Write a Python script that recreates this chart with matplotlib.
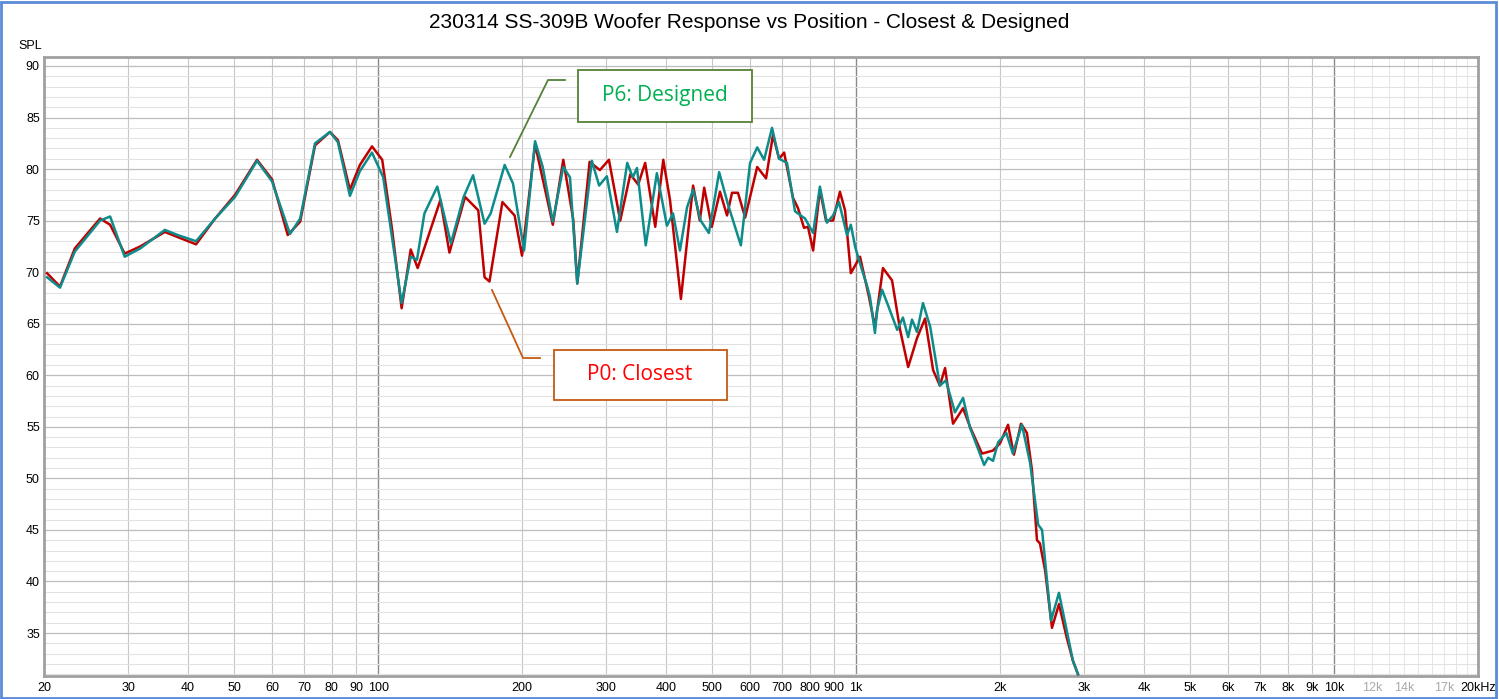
import matplotlib
matplotlib.use("Agg")
import matplotlib.pyplot as plt
from matplotlib.patches import Rectangle
from matplotlib.lines import Line2D
from matplotlib.ticker import NullFormatter, FixedLocator

plt.rcParams["font.family"] = "Liberation Sans"

title = "230314 SS-309B Woofer Response vs Position - Closest & Designed"

p0_freq = [20.3,21.6,23.2,26.2,27.5,29.5,31.8,35.8,38.1,41.6,45.6,50.2,55.8,60,64.7,68.7,73.8,79.3,82.4,87.3,91.6,97.1,102,107,112,117,121,135,141,152,162,167,171,182,193,200,213,232,244,256,261,277,291,304,321,337,350,362,380,395,408,430,456,471,481,499,519,537,550,566,586,621,648,670,690,707,738,756,778,793,813,840,865,895,925,948,975,1019,1064,1095,1138,1189,1236,1285,1341,1394,1449,1497,1535,1595,1674,1731,1834,1934,2000,2079,2139,2213,2277,2333,2390,2424,2485,2569,2657,2760,2842,2912]
p0_spl = [69.9,68.6,72.3,75.2,74.6,71.8,72.5,73.9,73.4,72.7,75.2,77.5,80.9,79.0,73.6,74.9,82.3,83.6,82.8,78.0,80.4,82.2,80.9,74.1,66.5,72.2,70.4,77.0,71.9,77.3,76.0,69.5,69.1,76.8,75.5,71.6,82.4,74.6,80.9,75.1,68.9,80.7,79.9,80.9,75.0,79.5,78.5,80.6,74.4,80.9,77.0,67.4,78.4,75.0,78.2,74.4,77.8,75.5,77.7,77.7,75.3,80.2,79.1,83.3,81.0,81.6,77.2,76.2,74.3,74.4,72.1,78.0,75.0,75.0,77.8,76.0,69.9,71.5,67.6,64.7,70.4,69.2,64.4,60.8,63.6,65.5,60.5,59.0,60.7,55.3,56.8,55.0,52.4,52.7,53.4,55.2,52.3,55.3,54.4,50.8,44.0,43.7,41.1,35.5,37.8,34.5,32.3,31.0]

p6_freq = [20.3,21.6,23.2,26.2,27.5,29.5,31.8,35.8,38.1,41.6,45.6,50.2,55.8,60,65.4,68.7,73.8,79.3,82.4,87.3,91.6,97.1,102.5,112,117,120.6,125,133,142,151,158,167,172,184,191.5,202,213,221,232,244,252,261,280,290,301,316,332,341,348,363,383,402,414,428,443,456,473,492,517,540,574,600,621,642,667,690,717,745,782,813,840,869,895,921,957,975,996,1029,1054,1069,1095,1106,1133,1166,1219,1253,1285,1309,1341,1380,1429,1497,1541,1610,1674,1731,1853,1889,1934,1982,2062,2128,2223,2312,2404,2449,2557,2657,2842,2912]
p6_spl = [69.5,68.5,72.0,75.0,75.4,71.5,72.3,74.1,73.6,73.0,75.2,77.3,80.8,78.8,73.7,75.2,82.5,83.6,82.6,77.4,79.8,81.6,79.2,67.0,71.5,71.2,75.7,78.3,72.8,77.3,79.4,74.7,75.7,80.4,78.6,72.1,82.7,80.2,74.9,80.2,79.2,68.9,80.8,78.4,79.3,73.9,80.6,79.2,80.1,72.6,79.6,74.5,75.7,72.1,76.3,78.0,75.0,73.8,79.7,76.5,72.6,80.6,82.1,80.9,84.0,81.0,80.6,75.9,75.2,73.8,78.3,74.8,75.5,76.8,73.6,74.6,72.4,70.2,68.7,67.6,64.1,66.3,68.3,66.8,64.4,65.6,63.7,65.4,64.2,67.0,64.7,59.0,59.5,56.4,57.8,54.9,51.3,52.0,51.7,53.5,54.4,52.4,55.2,51.5,45.5,45.0,36.2,38.9,32.3,31.0]

tick_vals = [20,30,40,50,60,70,80,90,100,200,300,400,500,600,700,800,900,1000,2000,3000,4000,5000,6000,7000,8000,9000,10000,12000,14000,17000,20000]
tick_labels = ["20","30","40","50","60","70","80","90","100","200","300","400","500","600","700","800","900","1k","2k","3k","4k","5k","6k","7k","8k","9k","10k","12k","14k","17k","20kHz"]
y_ticks = [35,40,45,50,55,60,65,70,75,80,85,90]

W, H = 1499, 699
fig = plt.figure(figsize=(W/100, H/100), dpi=100)
fig.patch.set_facecolor("white")
fig.add_artist(Rectangle((0.001, 0.002), 0.997, 0.995, transform=fig.transFigure,
                         fill=False, edgecolor="#5B8BD6", linewidth=2))
ax = fig.add_axes([44/W, (H-676)/H, (1478-44)/W, (676-57)/H])
ax.set_xscale("log")
ax.set_xlim(20, 20000)
ax.set_ylim(30.83, 90.87)

vlines = []
for dec in (10, 100, 1000):
    for m in range(1, 10):
        v = dec*m
        if 20 <= v <= 10000:
            vlines.append(v)
vlines.append(10000)
for v in vlines:
    if v in (100, 1000, 10000):
        c, lw = "#8a8a8a", 1.0
    else:
        c, lw = "#c8c8c8", 0.8
    ax.axvline(v, color=c, lw=lw, zorder=0)
for v in range(11000, 20000, 1000):
    ax.axvline(v, color="#e6e6e6", lw=0.7, zorder=0)
for y in range(31, 91):
    if y % 5 == 0:
        ax.axhline(y, color="#bdbdbd", lw=0.9, zorder=0)
    else:
        ax.axhline(y, color="#e2e2e2", lw=0.8, zorder=0)

ax.plot(p0_freq, p0_spl, color="#C00000", lw=1.8, zorder=3, solid_joinstyle="round")
ax.plot(p6_freq, p6_spl, color="#0E8C8C", lw=1.8, zorder=4, solid_joinstyle="round")

ax.xaxis.set_major_locator(FixedLocator(tick_vals))
ax.set_xticklabels(tick_labels)
ax.xaxis.set_minor_formatter(NullFormatter())
ax.xaxis.set_minor_locator(FixedLocator([]))
for lbl, v in zip(ax.get_xticklabels(), tick_vals):
    if v in (12000, 14000, 17000):
        lbl.set_color("#aaaaaa")
ax.set_yticks(y_ticks)
ax.tick_params(axis="both", length=0, labelsize=9, pad=4)
ax.tick_params(axis="y", pad=3)
for s in ax.spines.values():
    s.set_color("#a0a0a0")
    s.set_linewidth(2)
fig.text(18/W, (H-46)/H, "SPL", fontsize=9, va="center")
fig.text(0.5, (H-23)/H, title, ha="center", va="center", fontsize=15)

fig.add_artist(Rectangle((578/W, (H-122)/H), 174/W, 52/H, transform=fig.transFigure,
                         fill=True, facecolor="white", edgecolor="#548235", lw=1.3, zorder=5))
fig.text(665/W, (H-96)/H, "P6: Designed", color="#00B050", fontsize=15, ha="center", va="center",
         zorder=6, family="Open Sans")
fig.add_artist(Line2D([510/W, 548/W, 565/W], [(H-157)/H, (H-80)/H, (H-80)/H],
                      transform=fig.transFigure, color="#548235", lw=1.3))
fig.add_artist(Rectangle((554/W, (H-400)/H), 173/W, 50/H, transform=fig.transFigure,
                         fill=True, facecolor="white", edgecolor="#C55A11", lw=1.3, zorder=5))
fig.text(640/W, (H-375)/H, "P0: Closest", color="#FF0000", fontsize=15, ha="center", va="center",
         zorder=6, family="Open Sans")
fig.add_artist(Line2D([492/W, 523/W, 540/W], [(H-290)/H, (H-358)/H, (H-358)/H],
                      transform=fig.transFigure, color="#C55A11", lw=1.3))

fig.savefig("out.png", dpi=100)
